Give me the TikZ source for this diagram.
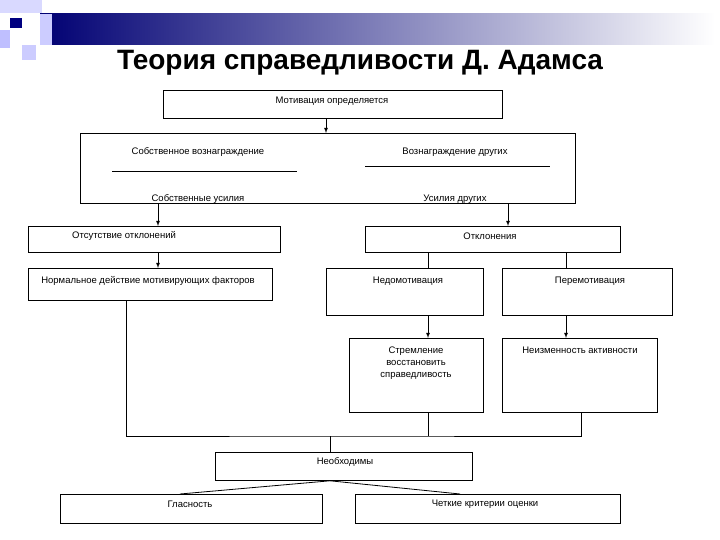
\documentclass[tikz,border=0pt]{standalone}
\usepackage{fontspec}
\setmainfont{Liberation Sans}
\begin{document}
\begin{tikzpicture}[x=1pt,y=-1pt,
    box/.style={shape=rectangle, draw, line width=0.8pt, inner sep=0, anchor=north west},
    lbl/.style={anchor=center, align=center, inner sep=1pt, font=\fontsize{9.5}{12}\selectfont},
    arr/.style={-latex, line width=0.8pt},
    ln/.style={line width=0.8pt}]
  \useasboundingbox (0,0) rectangle (720,540);
  % Header decoration:
  \shade[left color=blue!45!black, right color=white] (40,14) rectangle (715,45);
  \fill[blue!15] (0,0) rectangle (42,13);
  \fill[blue!25] (0,30) rectangle (10,48);
  \fill[blue!20] (22,45) rectangle (36,60);
  \fill[blue!20] (40,14) rectangle (52,45);
  \fill[blue!50!black] (10,18) rectangle (22,28);
  \node[font=\bfseries\fontsize{28}{32}\selectfont] (title) at (360,63) {Теория справедливости Д. Адамса};
  % Boxes and labels:
  \node[box, minimum width=339, minimum height=28] (top) at (163,90) {};
  \node[lbl] (topl) at (332,101) {Мотивация определяется};
  \node[box, minimum width=495, minimum height=70] (big) at (80,133) {};
  \node[lbl] (ownrew) at (198,152) {Собственное вознаграждение};
  \node[lbl] (othrew) at (455,152) {Вознаграждение других};
  \node[lbl] (owneff) at (198,199) {Собственные усилия};
  \node[lbl] (otheff) at (455,199) {Усилия других};
  \coordinate (u1) at (112,171); \coordinate (u2) at (297,171);
  \coordinate (u3) at (365,166); \coordinate (u4) at (550,166);
  \node[box, minimum width=252, minimum height=26] (nodev) at (28,226) {};
  \node[lbl] (nodevl) at (124,236) {Отсутствие отклонений};
  \node[box, minimum width=255, minimum height=26] (dev) at (365,226) {};
  \node[lbl] (devl) at (490,236) {Отклонения};
  \node[box, minimum width=244, minimum height=32] (norm) at (28,268) {};
  \node[lbl] (norml) at (148,281) {Нормальное действие мотивирующих факторов};
  \node[box, minimum width=157, minimum height=47] (under) at (326,268) {};
  \node[lbl] (underl) at (408,281) {Недомотивация};
  \node[box, minimum width=170, minimum height=47] (over) at (502,268) {};
  \node[lbl] (overl) at (590,281) {Перемотивация};
  \node[box, minimum width=134, minimum height=74] (restore) at (349,338) {};
  \node[lbl] (restorel) at (416,363) {Стремление\\восстановить\\справедливость};
  \node[box, minimum width=155, minimum height=74] (same) at (502,338) {};
  \node[lbl] (samel) at (580,350) {Неизменность активности};
  \node[box, minimum width=257, minimum height=28] (need) at (215,452) {};
  \node[lbl] (needl) at (345,462) {Необходимы};
  \node[box, minimum width=262, minimum height=29] (glas) at (60,494) {};
  \node[lbl] (glasl) at (190,504) {Гласность};
  \node[box, minimum width=265, minimum height=29] (crit) at (355,494) {};
  \node[lbl] (critl) at (485,504) {Четкие критерии оценки};
  % Connectors:
  \draw[ln] (u1) -- (u2);
  \draw[ln] (u3) -- (u4);
  \draw[arr] (top.south -| 326,0) -- (big.north -| 326,0);
  \draw[arr] (big.south -| 158,0) -- (nodev.north -| 158,0);
  \draw[arr] (big.south -| 508,0) -- (dev.north -| 508,0);
  \draw[arr] (nodev.south -| 158,0) -- (norm.north -| 158,0);
  \draw[ln] (dev.south -| 428,0) -- (under.north -| 428,0);
  \draw[ln] (dev.south -| 566,0) -- (over.north -| 566,0);
  \draw[arr] (under.south -| 428,0) -- (restore.north -| 428,0);
  \draw[arr] (over.south -| 566,0) -- (same.north -| 566,0);
  \coordinate (bus) at (330,436);
  \draw[ln] (norm.south -| 126,0) |- (bus) -| (same.south -| 581,0);
  \draw[ln] (restore.south -| 428,0) -- (bus -| 428,0);
  \draw[ln] (bus) -- (need.north -| bus);
  \draw[ln] (need.south -| 330,0) -- (glas.north -| 180,0);
  \draw[ln] (need.south -| 330,0) -- (crit.north -| 460,0);
\end{tikzpicture}
\end{document}
